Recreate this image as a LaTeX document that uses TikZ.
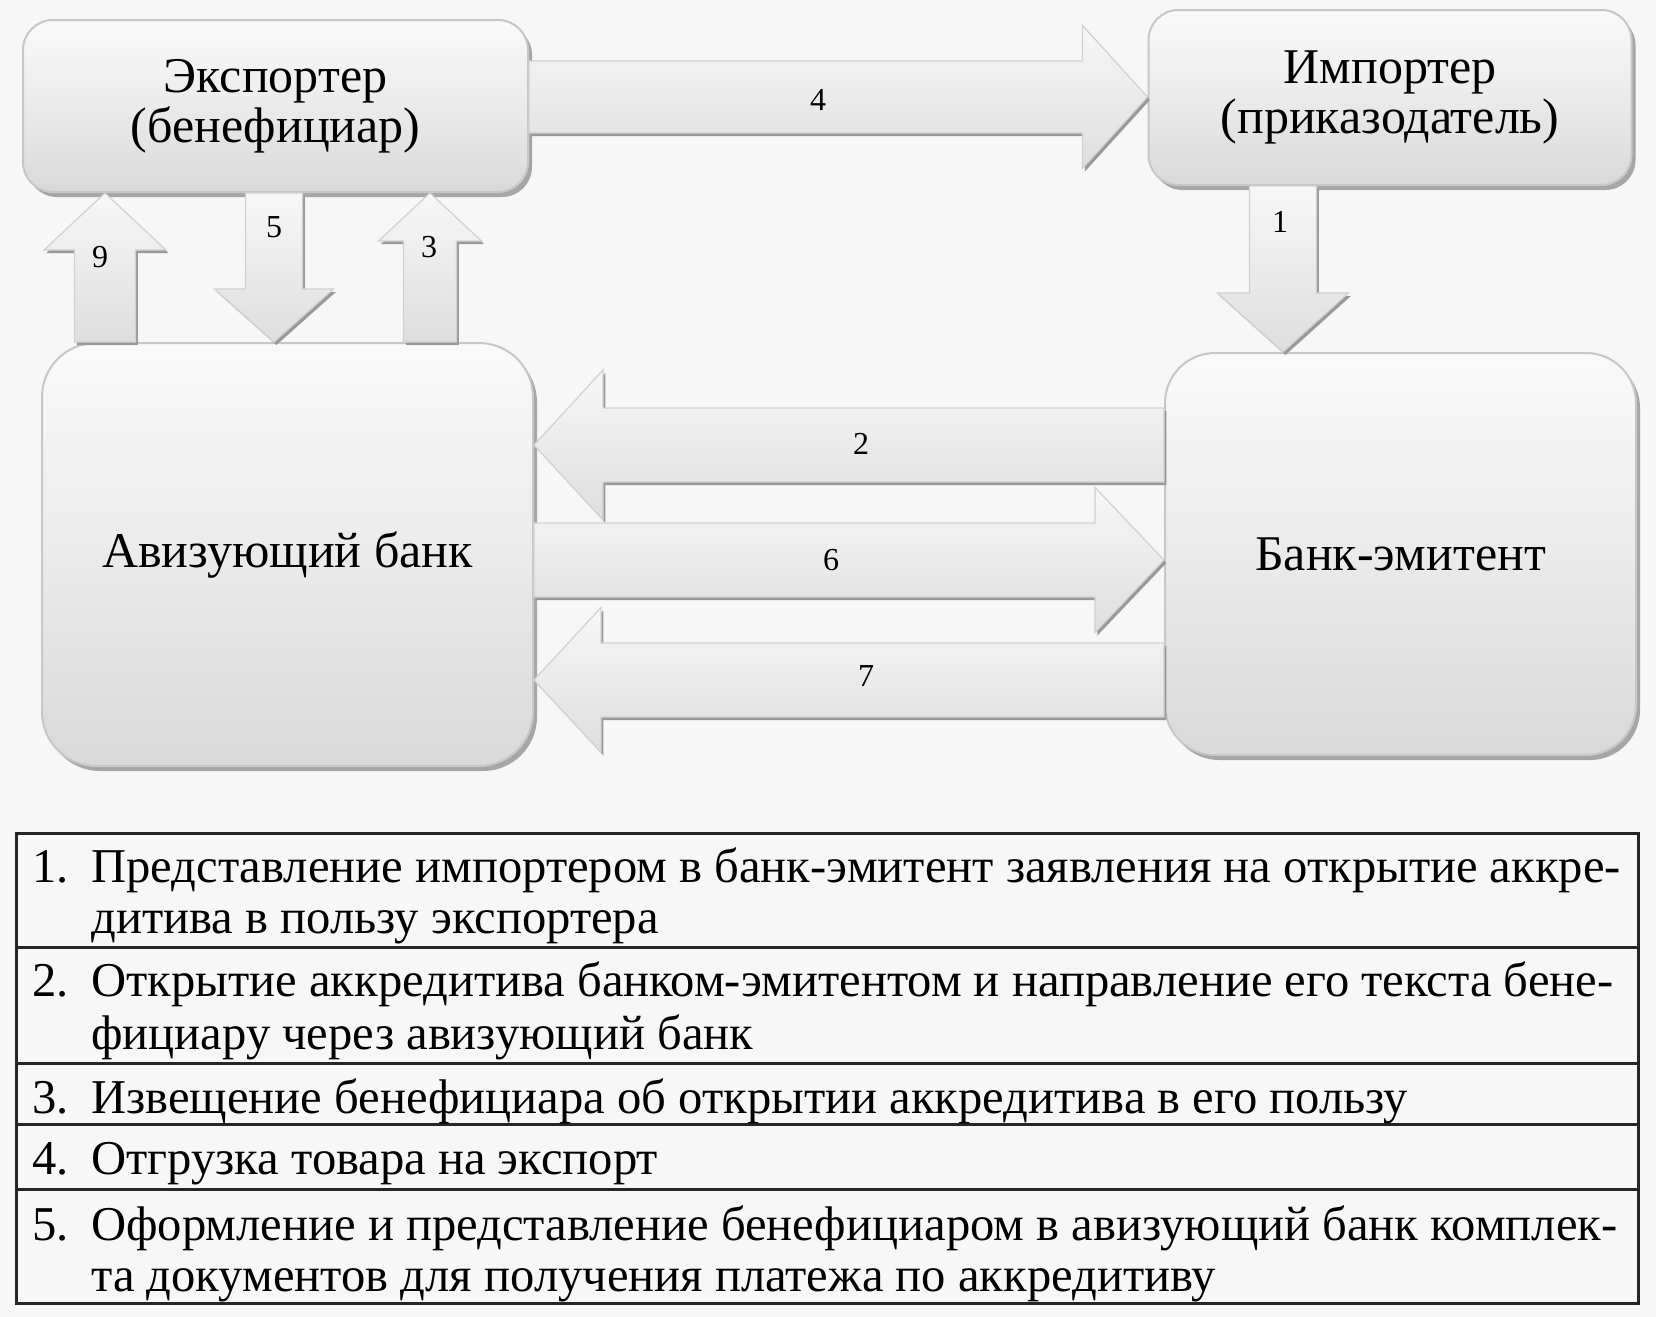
\documentclass[tikz,border=0pt]{standalone}
\usepackage{fontspec}
\setmainfont{Liberation Serif}
\usepackage{tikz}
\usetikzlibrary{calc,shadows}

\tikzset{
    box/.style={draw=black!22, line width=1pt, rounded corners=#1,
        top color=black!2, bottom color=black!15, middle color=black!8,
        drop shadow={shadow xshift=2pt, shadow yshift=-2.5pt, fill=black!35, opacity=1},
        align=center, font=\fontsize{25}{25}\selectfont},
    box/.default=15pt,
    flow/.style={draw=black!18, line width=0.6pt, top color=black!3, bottom color=black!13,
        drop shadow={shadow xshift=1.2pt, shadow yshift=-1.5pt, fill=black!40, opacity=1}},
    fat/.style n args={3}{to path={
        let \p1=(\tikztostart), \p2=(\tikztotarget),
            \n1={veclen(\x2-\x1,\y2-\y1)},
            \n2={(\x2-\x1)/\n1}, \n3={(\y2-\y1)/\n1}
        in ({\x1-\n3*#1},{\y1+\n2*#1})
        -- ({\x2-\n2*#3-\n3*#1},{\y2-\n3*#3+\n2*#1})
        -- ({\x2-\n2*#3-\n3*#2},{\y2-\n3*#3+\n2*#2})
        -- (\p2)
        -- ({\x2-\n2*#3+\n3*#2},{\y2-\n3*#3-\n2*#2})
        -- ({\x2-\n2*#3+\n3*#1},{\y2-\n3*#3-\n2*#1})
        -- ({\x1+\n3*#1},{\y1-\n2*#1})
        -- cycle}},
    num/.style={font=\fontsize{16}{16}\selectfont},
    row/.style={anchor=base west, inner sep=0pt, font=\fontsize{24.3}{25}\selectfont}
}

\begin{document}
\begin{tikzpicture}[x=0.5pt, y=-0.5pt]
    \fill[black!3] (0,0) rectangle (1656,1317);
    \useasboundingbox (0,0) rectangle (1656,1317);

    \node[box, minimum width=252.5pt, minimum height=86pt] (exp) at (275.5,106) {Экспортер\\(бенефициар)};
    \node[box, minimum width=241.5pt, minimum height=87.5pt] (imp) at (1390,97.5) {Импортер\\(приказодатель)};
    \node[box=27pt, minimum width=245.5pt, minimum height=211.5pt] (adv) at (287.5,554.5) {Авизующий банк};
    \node[box=25pt, minimum width=235.5pt, minimum height=201pt] (iss) at (1400.5,554) {Банк-эмитент};

    \draw[flow, fat={18pt}{35.75pt}{32.5pt}] (exp.east |- 0,97) to (imp.west |- 0,97);
    \draw[flow, fat={16.75pt}{32.75pt}{29.5pt}] (imp.south -| 1283,0) to (iss.north -| 1283,0);
    \draw[flow, fat={18.5pt}{37.5pt}{34.5pt}] (iss.west |- 0,445) to (adv.east |- 0,445);
    \draw[flow, fat={13.25pt}{25.75pt}{24pt}] (adv.north -| 430,0) to (exp.south -| 430,0);
    \draw[flow, fat={14.25pt}{29.75pt}{26.5pt}] (exp.south -| 274,0) to (adv.north -| 274,0);
    \draw[flow, fat={18.5pt}{36.25pt}{34.5pt}] (adv.east |- 0,560) to (iss.west |- 0,560);
    \draw[flow, fat={18.5pt}{36.25pt}{33.5pt}] (iss.west |- 0,680) to (adv.east |- 0,680);
    \draw[flow, fat={15.25pt}{30.5pt}{28.5pt}] (adv.north -| 105,0) to (exp.south -| 105,0);

    \node[num] (n1) at (1280,222) {1};
    \node[num] (n2) at (861,444) {2};
    \node[num] (n3) at (429,247) {3};
    \node[num] (n4) at (818,100) {4};
    \node[num] (n5) at (274,227) {5};
    \node[num] (n6) at (831,560) {6};
    \node[num] (n7) at (866,676) {7};
    \node[num] (n9) at (100,257) {9};

    \draw[black!85, line width=1.5pt] (16,833) rectangle (1638,1303);
    \foreach \y in {947,1063,1124,1189}
        \draw[black!85, line width=1.5pt] (16,\y) -- (1638,\y);

    \foreach \y/\k in {882/1, 996/2, 1113/3, 1174/4, 1240/5}
        \node[row] (k\k) at (32,\y) {\k.};
    \foreach \y/\t [count=\i] in {
        882/{Представление импортером в банк-эмитент заявления на открытие аккре-},
        933/{дитива в пользу экспортера},
        996/{Открытие аккредитива банком-эмитентом и направление его текста бене-},
        1049/{фициару через авизующий банк},
        1113/{Извещение бенефициара об открытии аккредитива в его пользу},
        1174/{Отгрузка товара на экспорт},
        1240/{Оформление и представление бенефициаром в авизующий банк комплек-},
        1291/{та документов для получения платежа по аккредитиву}}
        \node[row] (t\i) at (91,\y) {\t};
\end{tikzpicture}
\end{document}
